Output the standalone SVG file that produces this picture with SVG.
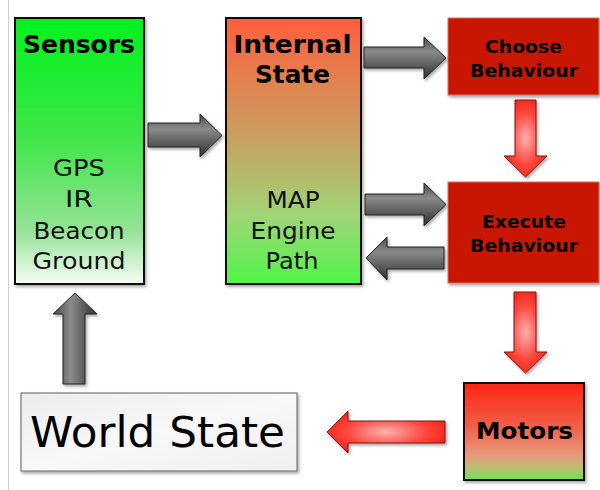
<svg xmlns="http://www.w3.org/2000/svg" width="600" height="490" viewBox="0 0 600 490">
  <defs>
    <linearGradient id="gSensors" x1="0" y1="0" x2="0" y2="1">
      <stop offset="0" stop-color="#00f21e"/>
      <stop offset="0.45" stop-color="#3fe648"/>
      <stop offset="0.8" stop-color="#95e296"/>
      <stop offset="1" stop-color="#f6fdf6"/>
    </linearGradient>
    <linearGradient id="gInternal" x1="0" y1="0" x2="0" y2="1">
      <stop offset="0" stop-color="#ff5e3c"/>
      <stop offset="0.45" stop-color="#c8a060"/>
      <stop offset="0.75" stop-color="#9ed676"/>
      <stop offset="1" stop-color="#4ef548"/>
    </linearGradient>
    <linearGradient id="gMotors" x1="0" y1="0" x2="0" y2="1">
      <stop offset="0" stop-color="#ff2414"/>
      <stop offset="0.45" stop-color="#f06048"/>
      <stop offset="0.75" stop-color="#e89a80"/>
      <stop offset="0.88" stop-color="#b8c070"/>
      <stop offset="1" stop-color="#66e650"/>
    </linearGradient>
    <linearGradient id="gWorld" x1="0" y1="0" x2="1" y2="1">
      <stop offset="0" stop-color="#ececec"/>
      <stop offset="0.5" stop-color="#f8f8f8"/>
      <stop offset="1" stop-color="#efefef"/>
    </linearGradient>
    <linearGradient id="gGrayH" x1="0" y1="0" x2="0" y2="1">
      <stop offset="0" stop-color="#4a4a4a"/>
      <stop offset="0.35" stop-color="#8a8a8a"/>
      <stop offset="1" stop-color="#2e2e2e"/>
    </linearGradient>
    <linearGradient id="gGrayV" x1="0" y1="0" x2="1" y2="0">
      <stop offset="0" stop-color="#4a4a4a"/>
      <stop offset="0.4" stop-color="#8c8c8c"/>
      <stop offset="1" stop-color="#2e2e2e"/>
    </linearGradient>
    <radialGradient id="gRed" cx="0.5" cy="0.5" r="0.6">
      <stop offset="0" stop-color="#ffb0b0"/>
      <stop offset="0.55" stop-color="#ff4a40"/>
      <stop offset="1" stop-color="#f01a10"/>
    </radialGradient>
    <filter id="shadow" x="-20%" y="-20%" width="140%" height="140%">
      <feDropShadow dx="1.5" dy="2" stdDeviation="1.5" flood-color="#000" flood-opacity="0.35"/>
    </filter>
  </defs>
  <style>
    .box { stroke: #111; stroke-width: 2; filter: url(#shadow); }
    .red { fill: #c81400; stroke: #e86a5a; stroke-width: 1; filter: url(#shadow); }
    .title { font-family: "DejaVu Sans", Verdana, sans-serif; font-weight: bold; fill: #000; text-anchor: middle; }
    .item { font-family: "DejaVu Sans", Verdana, sans-serif; font-size: 23.5px; fill: #111; text-anchor: middle; }
    .garrow { stroke: #222; stroke-width: 1; stroke-linejoin: miter; filter: url(#shadow); }
    .rarrow { fill: url(#gRed); stroke: #7a1a14; stroke-width: 1; filter: url(#shadow); }
  </style>

  <!-- page edge -->
  <line x1="8.5" y1="0" x2="8.5" y2="490" stroke="#cfcfcf" stroke-width="1"/>

  <g id="sensors">
    <rect class="box" x="15" y="18" width="129" height="266" fill="url(#gSensors)"/>
    <text class="title" x="79" y="53" font-size="24.5" textLength="112" lengthAdjust="spacingAndGlyphs">Sensors</text>
    <text class="item" x="79" y="176" textLength="52" lengthAdjust="spacingAndGlyphs">GPS</text>
    <text class="item" x="79" y="207" textLength="28" lengthAdjust="spacingAndGlyphs">IR</text>
    <text class="item" x="79" y="239" textLength="91" lengthAdjust="spacingAndGlyphs">Beacon</text>
    <text class="item" x="79" y="269" textLength="93" lengthAdjust="spacingAndGlyphs">Ground</text>
  </g>

  <g id="internal-state">
    <rect class="box" x="226" y="18" width="135" height="266" fill="url(#gInternal)"/>
    <text class="title" x="292.5" y="53" font-size="24.5" textLength="118" lengthAdjust="spacingAndGlyphs">Internal</text>
    <text class="title" x="292.5" y="83" font-size="24.5" textLength="75" lengthAdjust="spacingAndGlyphs">State</text>
    <text class="item" x="293" y="208" textLength="53" lengthAdjust="spacingAndGlyphs">MAP</text>
    <text class="item" x="293" y="239" textLength="85" lengthAdjust="spacingAndGlyphs">Engine</text>
    <text class="item" x="292" y="269" textLength="53" lengthAdjust="spacingAndGlyphs">Path</text>
  </g>

  <g id="choose-behaviour">
    <rect class="red" x="448" y="18" width="151" height="77"/>
    <text class="title" x="523.5" y="53" font-size="18.5" textLength="77" lengthAdjust="spacingAndGlyphs">Choose</text>
    <text class="title" x="524" y="77" font-size="18.5" textLength="108" lengthAdjust="spacingAndGlyphs">Behaviour</text>
  </g>

  <g id="execute-behaviour">
    <rect class="red" x="448" y="182" width="151" height="101"/>
    <text class="title" x="524" y="228" font-size="18.5" textLength="84" lengthAdjust="spacingAndGlyphs">Execute</text>
    <text class="title" x="524" y="252" font-size="18.5" textLength="108" lengthAdjust="spacingAndGlyphs">Behaviour</text>
  </g>

  <g id="motors">
    <rect class="box" x="464" y="383" width="120" height="97" fill="url(#gMotors)"/>
    <text class="title" x="524.5" y="439" font-size="23" textLength="97" lengthAdjust="spacingAndGlyphs">Motors</text>
  </g>

  <g id="world-state">
    <rect x="21" y="393" width="276" height="78" fill="url(#gWorld)" stroke="#777" stroke-width="1.2" filter="url(#shadow)"/>
    <text x="157.5" y="447" font-family="DejaVu Sans, Verdana, sans-serif" font-size="42" fill="#000" text-anchor="middle" textLength="255" lengthAdjust="spacingAndGlyphs">World State</text>
  </g>

  <g id="connectors">
    <!-- sensors to internal state -->
    <path class="garrow" fill="url(#gGrayH)" d="M148,123 H200 V114 L222,135.5 L200,157 V147 H148 Z"/>
    <!-- internal state to choose behaviour -->
    <path class="garrow" fill="url(#gGrayH)" d="M364,47 H424 V37 L446,58 L424,79 V68 H364 Z"/>
    <!-- internal state to execute behaviour -->
    <path class="garrow" fill="url(#gGrayH)" d="M365,194 H424 V183 L446,204.5 L424,226 V215 H365 Z"/>
    <!-- execute behaviour back to internal state -->
    <path class="garrow" fill="url(#gGrayH)" d="M444,247 H387 V237 L366,258 L387,280 V269 H444 Z"/>
    <!-- world state up to sensors -->
    <path class="garrow" fill="url(#gGrayV)" d="M63,384 V314 H53 L75,293 L97,314 H85 V384 Z"/>
    <!-- choose behaviour to execute behaviour -->
    <path class="rarrow" d="M515,100 H536 V156 H547 L525.5,177 L504,156 H515 Z"/>
    <!-- execute behaviour to motors -->
    <path class="rarrow" d="M514,292 H536 V352 H547 L525.5,373 L504,352 H514 Z"/>
    <!-- motors to world state -->
    <path class="rarrow" d="M445,421 H348 V411 L327,432 L348,453 V443 H445 Z"/>
  </g>
</svg>
